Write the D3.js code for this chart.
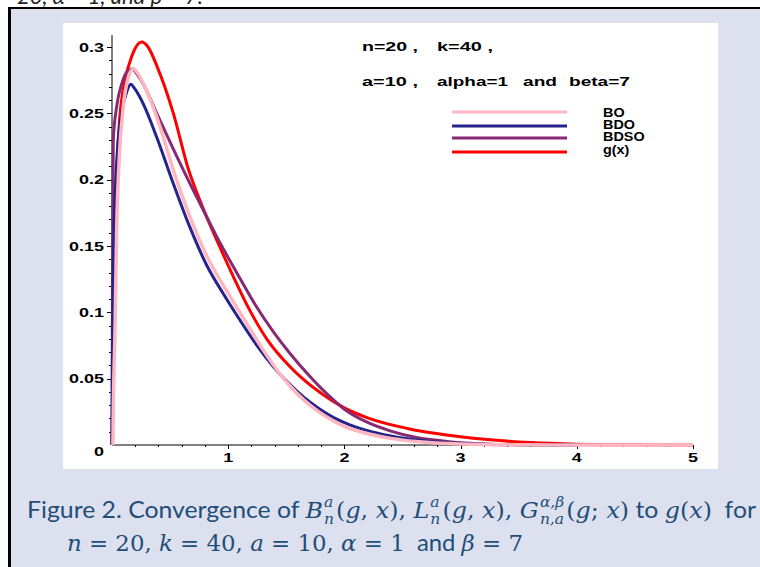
<!DOCTYPE html>
<html>
<head>
<meta charset="utf-8">
<script src="https://cdn.jsdelivr.net/npm/d3@7"></script>
<style>
  body { margin: 0; background: #fff; }
  svg { display: block; }
</style>
</head>
<body>
<svg id="fig" width="760" height="567"></svg>
<script>
// curves, [x, y] pairs
const boPts = [[0.008,0],[0.011,0.024],[0.026,0.087],[0.04,0.162],[0.063,0.217],[0.097,0.255],[0.14,0.277],
  [0.183,0.2836],[0.23,0.279],[0.298,0.267],[0.413,0.24],[0.528,0.207],[0.671,0.172],[0.815,0.1427],
  [1.016,0.112],[1.159,0.0916],[1.302,0.0715],[1.446,0.0535],[1.532,0.0445],[1.65,0.034],[1.78,0.025],
  [1.9,0.0185],[2.0,0.014],[2.2,0.0085],[2.4,0.005],[2.7,0.002],[3.0,0.0008],[3.5,0.0002],[4.0,0],[5.0,0]]

const bdoPts = [[0,0],[0.004,0.07],[0.011,0.137],[0.04,0.212],[0.083,0.25],[0.126,0.266],[0.161,0.272],
  [0.2,0.268],[0.27,0.257],[0.385,0.232],[0.528,0.197],[0.671,0.164],[0.815,0.1355],[0.958,0.114],
  [1.102,0.094],[1.245,0.0753],[1.389,0.059],[1.532,0.0455],[1.65,0.036],[1.78,0.0275],[1.9,0.021],
  [2.0,0.0168],[2.2,0.0108],[2.4,0.0068],[2.7,0.003],[3.0,0.0012],[3.5,0.0002],[4.0,0]]

const bdsoPts = [[0,0],[0.004,0.12],[0.011,0.23],[0.04,0.255],[0.083,0.272],[0.126,0.281],[0.175,0.2835],
  [0.22,0.279],[0.27,0.272],[0.385,0.25],[0.528,0.223],[0.671,0.197],[0.815,0.172],[0.914,0.155],
  [1.102,0.1255],[1.245,0.104],[1.389,0.0853],[1.532,0.069],[1.7,0.052],[1.85,0.0385],[2.0,0.027],
  [2.2,0.017],[2.4,0.0105],[2.6,0.006],[2.9,0.0025],[3.2,0.0008],[3.6,0.0001],[4.0,0]]

const gPts = [[0,0],[0.01,0.06],[0.02,0.13],[0.03,0.175],[0.045,0.215],[0.065,0.245],[0.1,0.27],
  [0.155,0.289],[0.2,0.299],[0.255,0.3037],[0.31,0.3],[0.385,0.286],[0.528,0.25],[0.657,0.208],
  [0.786,0.178],[0.914,0.152],[1.044,0.127],[1.159,0.106],[1.331,0.080],[1.532,0.059],[1.64,0.050],
  [1.8,0.039],[2.0,0.028],[2.2,0.0205],[2.54,0.0125],[2.93,0.007],[3.31,0.0035],[3.6,0.0018],
  [4.0,0.0006],[4.5,0.0001],[5.0,0]]

const xTicks = [1, 2, 3, 4, 5]
const yTicks = [0, 0.05, 0.1, 0.15, 0.2, 0.25, 0.3]
const yTickLabels = ["0", "0.05", "0.1", "0.15", "0.2", "0.25", "0.3"]

const legendNames = ["BO", "BDO", "BDSO", "g(x)"]
const colors = ["#ffb6c1", "#24248c", "#862a74", "#ff0000"]
const widths = [3.5, 3, 3, 3]

const svg = d3.select("#fig")
const navy = "#1f4e79"

// page background, frame and chart panel
svg.append("text")
  .attr("x", 17).attr("y", 4)
  .style("font-family", "Lato").style("font-style", "italic").style("font-size", "22px")
  .style("fill", "#222")
  .text("20, α = 1, and β = 7.")

svg.append("rect").attr("x", 9).attr("y", 8).attr("width", 760).attr("height", 567).attr("fill", "#dde0ee")
svg.append("line").attr("x1", 8).attr("x2", 760).attr("y1", 8).attr("y2", 8).attr("stroke", "#000").attr("stroke-width", 2)
svg.append("line").attr("x1", 9.5).attr("x2", 9.5).attr("y1", 7).attr("y2", 567).attr("stroke", "#000").attr("stroke-width", 3)
svg.append("rect").attr("x", 63).attr("y", 23).attr("width", 655).attr("height", 446).attr("fill", "#fff")

const x = d3.scaleLinear().domain([0, 5]).range([112, 693])
const y = d3.scaleLinear().domain([0, 0.3]).range([445, 47])

const boldFont = "Liberation Sans"

function stext(g, px, py, str, anchor, sx, size) {
  return g.append("text")
    .attr("transform", `translate(${px},${py}) scale(${sx},1)`)
    .attr("text-anchor", anchor)
    .style("font-family", boldFont).style("font-weight", "bold")
    .style("font-size", (size || 12) + "px").style("fill", "#000")
    .text(str)
}

// axes
const ax = svg.append("g")
ax.append("line").attr("x1", x(0)).attr("x2", x(0)).attr("y1", y(0)).attr("y2", y(0.309))
  .attr("stroke", "#000").attr("stroke-width", 1)
ax.append("line").attr("x1", x(0)).attr("x2", x(5)).attr("y1", y(0)).attr("y2", y(0))
  .attr("stroke", "#000").attr("stroke-width", 1)

d3.range(1, 31).forEach(i => {
  const v = i / 100
  const major = i % 5 == 0
  ax.append("line").attr("x1", x(0) - (major ? 5 : 3)).attr("x2", x(0))
    .attr("y1", Math.round(y(v)) + 0.5).attr("y2", Math.round(y(v)) + 0.5)
    .attr("stroke", "#000").attr("stroke-width", 1)
})
d3.range(1, 26).forEach(i => {
  const v = i / 5
  const major = i % 5 == 0
  ax.append("line").attr("x1", Math.round(x(v)) + 0.5).attr("x2", Math.round(x(v)) + 0.5)
    .attr("y1", y(0)).attr("y2", y(0) + (major ? 4 : 2))
    .attr("stroke", "#000").attr("stroke-width", 1)
})

yTicks.forEach((v, i) => {
  const dy = v == 0 ? 11 : 4.5
  stext(ax, x(0) - 8, y(v) + dy, yTickLabels[i], "end", 1.5, 12)
})
xTicks.forEach(v => {
  stext(ax, x(v), 462, String(v), "middle", 1.5, 12)
})

// curves
const line = d3.line()
  .x(d => x(d[0]))
  .y(d => y(d[1]))
  .curve(d3.curveMonotoneX)

const series = [gPts, bdsoPts, bdoPts, boPts]
const order = [3, 2, 1, 0]
series.forEach((pts, k) => {
  const i = order[k]
  svg.append("path")
    .attr("d", line(pts))
    .attr("fill", "none")
    .attr("stroke", colors[i])
    .attr("stroke-width", widths[i])
    .attr("stroke-linejoin", "round")
})

// annotation
const ann = svg.append("g")
const annWords = [
  ["n=20 ,", 362, 51, 56], ["k=40 ,", 437, 51, 56],
  ["a=10 ,", 362, 86, 56], ["alpha=1", 437, 86, 71], ["and", 523, 86, 34], ["beta=7", 569, 86, 61]
]
annWords.forEach(w => {
  ann.append("text")
    .attr("x", w[1]).attr("y", w[2])
    .attr("textLength", w[3]).attr("lengthAdjust", "spacingAndGlyphs")
    .style("font-family", boldFont).style("font-weight", "bold").style("font-size", "12.5px")
    .style("white-space", "pre")
    .text(w[0])
})

// legend
const legY = [112, 126, 138, 152]
const legTextY = [117, 129, 141, 154]
legendNames.forEach((name, i) => {
  svg.append("line")
    .attr("x1", 452).attr("x2", 567).attr("y1", legY[i]).attr("y2", legY[i])
    .attr("stroke", colors[i]).attr("stroke-width", 3)
  stext(svg, 603, legTextY[i], name, "start", 1.2, 12)
})

// caption with stacked scripts
const fonts = {
  txt: { family: "Lato", style: "normal", size: 24 },
  mi: { family: "DejaVu Serif", style: "italic", size: 23 },
  mo: { family: "DejaVu Serif", style: "normal", size: 23 }
}

function drawRuns(x0, base, runs, target) {
  const cap = svg.append("g").style("fill", navy)
  const inner = cap.append("g")
  let cx = 0
  runs.forEach(r => {
    if (r.sup !== undefined) {
      const a = inner.append("text").attr("x", cx + 1).attr("y", -11)
        .style("font-family", "DejaVu Serif").style("font-style", "italic").style("font-size", "15px")
        .text(r.sup)
      const b = inner.append("text").attr("x", cx + 1).attr("y", 6)
        .style("font-family", "DejaVu Serif").style("font-style", "italic").style("font-size", "15px")
        .text(r.sub)
      cx += Math.max(a.node().getComputedTextLength(), b.node().getComputedTextLength()) + 3
    } else {
      const f = fonts[r.f]
      const t = inner.append("text").attr("x", cx).attr("y", 0)
        .style("font-family", f.family).style("font-style", f.style).style("font-size", f.size + "px")
        .style("white-space", "pre")
        .text(r.t)
      cx += t.node().getComputedTextLength()
    }
  })
  const k = target / cx
  cap.attr("transform", `translate(${x0},${base}) scale(${k},1)`)
}

const arg = (sep) => [
  { t: "(", f: "mo" }, { t: "g", f: "mi" }, { t: sep + " ", f: "mo" }, { t: "x", f: "mi" }, { t: ")", f: "mo" }
]

const line1 = [
  { t: "Figure 2. Convergence of ", f: "txt" },
  { t: "B", f: "mi" }, { sup: "a", sub: "n" }, ...arg(","), { t: ", ", f: "mo" },
  { t: "L", f: "mi" }, { sup: "a", sub: "n" }, ...arg(","), { t: ", ", f: "mo" },
  { t: "G", f: "mi" }, { sup: "α,β", sub: "n,a" }, ...arg(";"),
  { t: " to ", f: "txt" },
  { t: "g", f: "mi" }, { t: "(", f: "mo" }, { t: "x", f: "mi" }, { t: ")", f: "mo" },
  { t: "  for", f: "txt" }
]
const line2 = [
  { t: "n", f: "mi" }, { t: " = 20, ", f: "mo" },
  { t: "k", f: "mi" }, { t: " = 40, ", f: "mo" },
  { t: "a", f: "mi" }, { t: " = 10, ", f: "mo" },
  { t: "α", f: "mi" }, { t: " = 1", f: "mo" },
  { t: "  and ", f: "txt" },
  { t: "β", f: "mi" }, { t: " = 7", f: "mo" }
]
drawRuns(27, 518, line1, 729)
drawRuns(67, 551, line2, 456)
</script>
</body>
</html>
